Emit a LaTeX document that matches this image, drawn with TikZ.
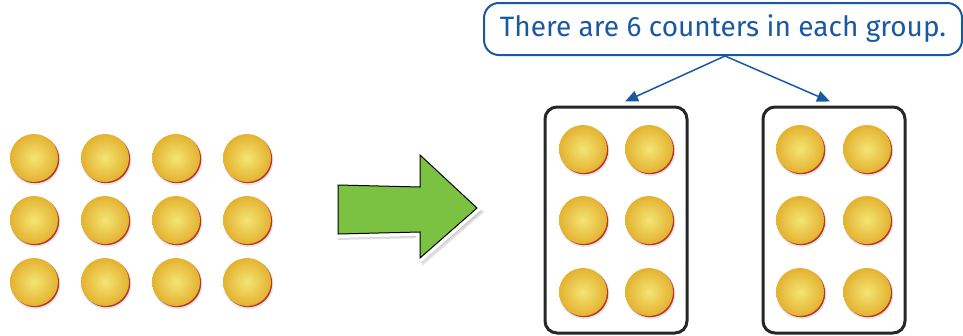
\documentclass[tikz,border=0pt]{standalone}
\usepackage{fontspec}
\setsansfont{Fira Sans}
\usepackage{xcolor}
\usetikzlibrary{arrows.meta,shadows,positioning}

\definecolor{noteblue}{RGB}{26,88,166}
\definecolor{cgold}{RGB}{228,178,48}
\definecolor{clight}{RGB}{243,229,116}
\definecolor{cred}{RGB}{184,52,40}
\definecolor{agreen}{RGB}{124,194,66}

\tikzset{
  counter/.style={circle,minimum size=48pt,inner sep=0pt,
    inner color=clight,outer color=cgold},
  grpbox/.style={draw=black!85,line width=3pt,rounded corners=12pt,
    minimum width=142pt,minimum height=226pt,inner sep=0pt},
  note/.style={draw=noteblue,line width=2pt,rounded corners=15pt,
    minimum width=478pt,minimum height=52pt,inner sep=0pt,
    text=noteblue,font=\sffamily\fontsize{28}{32}\selectfont},
  link/.style={noteblue,line width=1.5pt,-{Triangle[length=13pt,width=11pt]}}
}

% one counter: soft shadow, red rim, shaded face
\newcommand{\counterat}[3]{%
  \fill[black!10] (#1+1.5,#2+2) circle (25);
  \fill[cred] (#1+1.2,#2+1.2) circle (24);
  \node[counter] (#3) at (#1,#2) {};
}

\begin{document}
\begin{tikzpicture}[x=1pt,y=-1pt]
\useasboundingbox (0,0) rectangle (963,335);

% twelve counters
\foreach \c [count=\i] in {34,105,176,247}
  \foreach \r [count=\j] in {158,220,282}
    {\counterat{\c}{\r}{lc\i\j}}

% big green arrow
\fill[black!12] (338,189) -- (422,191) -- (422,156) -- (484,212)
  -- (422,266) -- (422,238) -- (338,240) -- cycle;
\fill[black!22] (339,189) -- (421,191) -- (421,157) -- (481,212)
  -- (421,263) -- (421,237) -- (339,238) -- cycle;
\draw[white,line width=8pt,line join=miter,fill=white] (338,185) -- (420,187)
  -- (420,155) -- (477,208) -- (420,258) -- (420,232) -- (338,234) -- cycle;
\draw[black,line width=1pt,fill=agreen] (338,185) -- (420,187)
  -- (420,155) -- (477,208) -- (420,258) -- (420,232) -- (338,234) -- cycle;

% the two groups
\node[grpbox] (grpA) at (616,220) {};
\node[grpbox] (grpB) at (834,220) {};
\foreach \c [count=\i] in {583,649}
  \foreach \r [count=\j] in {149,220,292}
    {\counterat{\c}{\r}{ac\i\j}}
\foreach \c [count=\i] in {800,867}
  \foreach \r [count=\j] in {149,220,292}
    {\counterat{\c}{\r}{bc\i\j}}

% callout
\node[note] (msg) at (723,29) {There are 6 counters in each group.};
\draw[link] ([xshift=2pt]msg.south) -- ([shift={(9,-4)}]grpA.north);
\draw[link] ([xshift=2pt]msg.south) -- ([shift={(-4,-4)}]grpB.north);
\end{tikzpicture}
\end{document}
